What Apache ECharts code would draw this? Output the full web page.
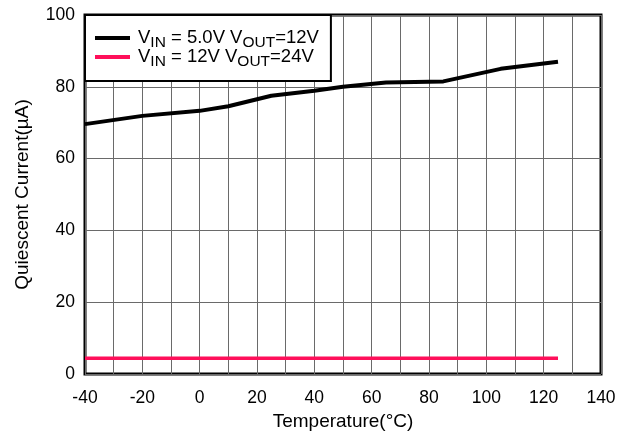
<!DOCTYPE html>
<html><head><meta charset="utf-8">
<script src="https://cdn.jsdelivr.net/npm/echarts@6/dist/echarts.min.js"></script>
<style>html,body{margin:0;padding:0;background:#fff}#c{width:631px;height:433px}</style>
</head><body><div id="c"></div>
<script>
var temps1 = [-40, -20, 0, 10, 25, 40, 50, 65, 85, 105, 125];
var iq1 = [69.6, 71.9, 73.3, 74.6, 77.5, 78.9, 80.0, 81.2, 81.5, 85.0, 87.0];
var temps2 = [-40, 0, 25, 50, 85, 125];
var iq2 = [4.4, 4.4, 4.4, 4.4, 4.4, 4.4];
var seriesNames = ['s1', 's2'];
var legendRich = ['{g|}{n|V}{s|IN}{n| = 5.0V V}{s|OUT}{n|=12V}', '{g|}{n|V}{s|IN}{n| = 12V V}{s|OUT}{n|=24V}'];

var chart = echarts.init(document.getElementById('c'));
var font = 'Liberation Sans, Arial, sans-serif';
chart.setOption({
  animation: false,
  textStyle: {fontFamily: font},
  grid: {left: 85, right: 30, top: 15, bottom: 59, show: true, borderColor: '#000', borderWidth: 3,
    backgroundColor: 'transparent', containLabel: false, outerBoundsMode: 'none'},
  legend: {
    left: 85, top: 15, orient: 'vertical', itemWidth: 35, itemHeight: 4, itemGap: -4,
    padding: [13, 12, 11, 10],
    backgroundColor: '#fff', borderColor: '#000', borderWidth: 2,
    icon: 'rect',
    formatter: function (name) { return legendRich[seriesNames.indexOf(name)]; },
    textStyle: {
      rich: {
        g: {width: 3, lineHeight: 20},
        n: {fontSize: 18.5, color: '#000', fontFamily: font, height: 20, lineHeight: 20, verticalAlign: 'bottom'},
        s: {fontSize: 15.5, color: '#000', fontFamily: font, height: 10, lineHeight: 10, verticalAlign: 'bottom'}
      }
    }
  },
  xAxis: {
    type: 'value', min: -40, max: 140, interval: 10,
    name: 'Temperature(\u00B0C)', nameLocation: 'middle', nameGap: 30,
    nameTextStyle: {fontSize: 19, color: '#000', fontFamily: font},
    axisLine: {show: false}, axisTick: {show: false},
    axisLabel: {fontSize: 17.5, color: '#000', margin: 15, fontFamily: font,
      formatter: function (v) { return v % 20 === 0 ? String(v) : ''; }},
    splitLine: {show: true, lineStyle: {color: '#6a6a6a', width: 1}}
  },
  yAxis: {
    type: 'value', min: 0, max: 100, interval: 20,
    name: 'Quiescent Current(\u00B5A)', nameLocation: 'middle', nameGap: 53, nameRotate: 90,
    nameTextStyle: {fontSize: 19, color: '#000', fontFamily: font},
    axisLine: {show: false}, axisTick: {show: false},
    axisLabel: {fontSize: 17.5, color: '#000', margin: 10, fontFamily: font},
    splitLine: {show: true, lineStyle: {color: '#6a6a6a', width: 1}}
  },
  series: [
    {name: seriesNames[0], type: 'line', data: temps1.map(function (t, i) { return [t, iq1[i]]; }),
      showSymbol: false, symbol: 'none', lineStyle: {color: '#000', width: 4}, itemStyle: {color: '#000'}},
    {name: seriesNames[1], type: 'line', data: temps2.map(function (t, i) { return [t, iq2[i]]; }),
      showSymbol: false, symbol: 'none', lineStyle: {color: '#ff0f5a', width: 3.5}, itemStyle: {color: '#ff0f5a'}}
  ]
});
</script></body></html>
